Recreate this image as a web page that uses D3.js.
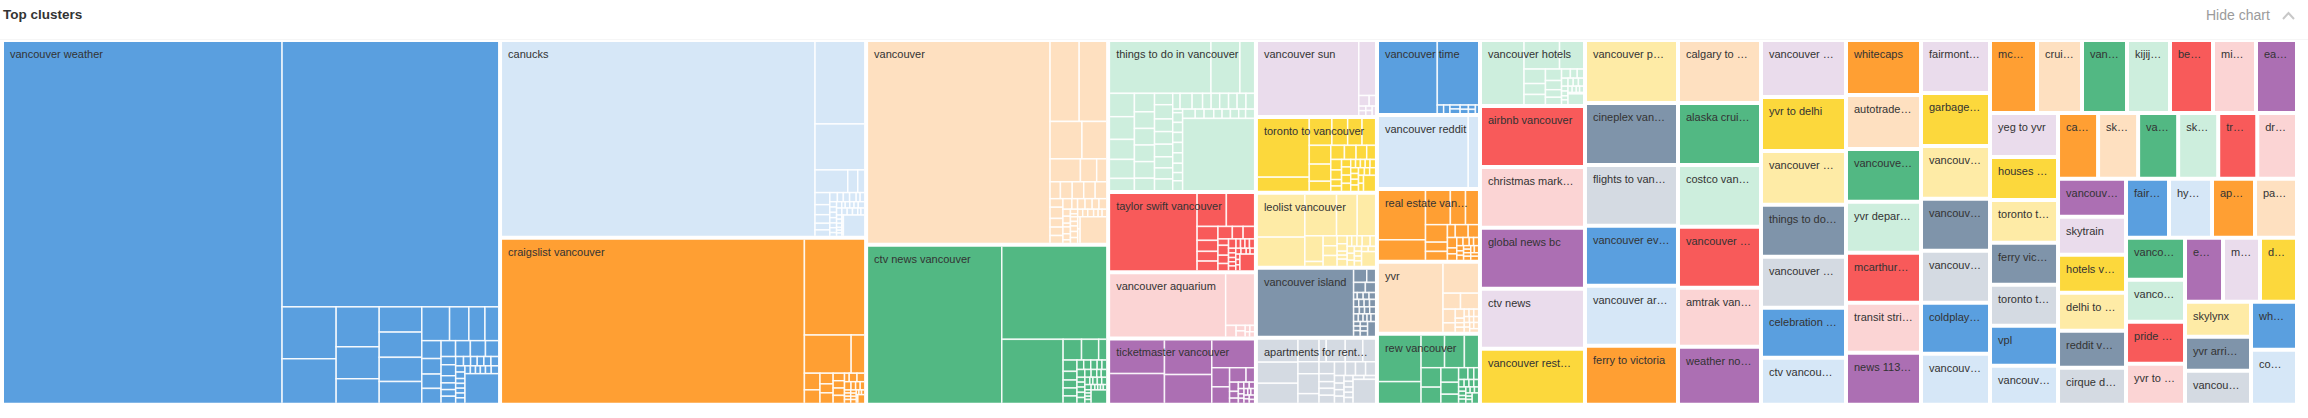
<!DOCTYPE html>
<html>
<head>
<meta charset="utf-8">
<script src="https://cdn.jsdelivr.net/npm/d3@7"></script>
<style>
  body { margin: 0; background: #fff; }
  text { font-family: "Liberation Sans", Arial, sans-serif; }
</style>
</head>
<body>
<script>
const clusterNames = [
  "vancouver weather", "canucks", "craigslist vancouver", "vancouver", "ctv news vancouver",
  "things to do in vancouver", "taylor swift vancouver", "vancouver aquarium", "ticketmaster vancouver",
  "vancouver sun", "toronto to vancouver", "leolist vancouver", "vancouver island", "apartments for rent…",
  "vancouver time", "vancouver reddit", "real estate van…", "yvr", "rew vancouver",
  "vancouver hotels", "airbnb vancouver", "christmas mark…", "global news bc", "ctv news", "vancouver rest…",
  "vancouver p…", "cineplex van…", "flights to van…", "vancouver ev…", "vancouver ar…", "ferry to victoria",
  "calgary to …", "alaska crui…", "costco van…", "vancouver …", "amtrak van…", "weather no…",
  "vancouver …", "yvr to delhi", "vancouver …", "things to do…", "vancouver …", "celebration …", "ctv vancou…",
  "whitecaps", "autotrade…", "vancouve…", "yvr depar…", "mcarthur…", "transit stri…", "news 113…",
  "fairmont…", "garbage…", "vancouv…", "vancouv…", "vancouv…", "coldplay…", "vancouv…",
  "mc…", "crui…", "van…", "kijij…", "be…", "mi…", "ea…",
  "yeg to yvr", "houses …", "toronto t…", "ferry vic…", "toronto t…", "vpl", "vancouv…",
  "ca…", "sk…", "va…", "sk…", "tr…", "dr…",
  "vancouv…", "skytrain", "hotels v…", "delhi to …", "reddit v…", "cirque d…",
  "fair…", "hy…", "ap…", "pa…",
  "vanco…", "vanco…", "pride …", "yvr to …",
  "e…", "m…", "d…",
  "skylynx", "yvr arri…", "vancou…",
  "wh…", "co…"
];

const clusterVolumes = [
  181770, 72468, 61122, 49610, 38720,
  22496, 11840, 9800, 9800,
  9317, 9196, 9075, 8470, 8107,
  7725, 7622, 7519, 7416, 7313,
  6930, 6405, 6405, 6405, 6300, 5880,
  5859, 5766, 5673, 5580, 5580, 5487,
  5229, 5146, 5146, 5063, 4897, 4814,
  4845, 4590, 4590, 4420, 4335, 4250, 3995,
  4125, 4050, 3975, 3825, 3750, 3750, 3900,
  3657, 3657, 3657, 3588, 3588, 3519, 3519,
  3431, 3285, 3285, 3139, 3139, 3139, 2993,
  2992, 2924, 2924, 2856, 2788, 2720, 2652,
  2640, 2640, 2640, 2640, 2574, 2620,
  2584, 2584, 2584, 2584, 2516, 2516,
  2537, 2537, 2537, 2478,
  2478, 2478, 2478, 2419,
  2432, 2368, 2368,
  2310, 2244, 2244,
  2208, 2530
];

// keyword volumes inside the clusters that show sub cells, same order as clusterNames
const keywordVolumes = [
  [100358,57240,2808,2376,1720,1376,1032,1075,1075,1032,903,938,653,544,442,345,299,276,276,230,235,240,200,120,160,105,97,97,94,73,66,62,62,66,66,58,60,45,45,45,45,45,42,40,38,40,45,53,960],
  [60664,4018,2254,742,227,143,178,148,127,98,87,69,54,57,60,36,36,36,36,36,36,32,33,22,33,22,29,27,27,37,37,37,37,37,22,22,22,22,22,15,15,15,15,15,430],
  [49226,5682,1786,494,260,200,140,118,129,85,83,83,83,40,66,60,54,38,38,32,19,20,20,20,18,18,18,18,12,12,12,12,50],
  [36461,2308,2135,1191,903,694,372,216,174,199,193,193,184,110,144,112,108,94,94,60,79,75,72,75,52,52,28,51,45,22,33,22,33,33,40,44,38,38,38,44,34,30,30,30,34,675],
  [20748,9608,3870,380,354,154,156,120,110,110,93,63,66,60,45,39,61,49,44,35,38,38,39,41,41,41,36,22,32,32,32,32,20,20,20,20,20,15,15,15,15,190],
  [5181,1488,718,567,552,486,462,284,372,334,334,334,334,239,207,260,230,230,230,202,202,202,116,190,165,135,135,140,135,140,125,35,96,99,99,103,103,92,81,92,117,82,90,77,77,77,64,77,5112],
  [6513,930,877,286,226,200,186,177,133,133,66,103,86,69,69,41,41,41,41,33,33,30,30,30,30,30,22,22,22,22,22,220],
  [7171,1443,115,50,50,30,25,20,20],
  [1808,1591,1622,1339,1155,342,283,239,114,81,60,40,35,35,30,30,25,25,25,20,20,20,20,20,15],
  [7373,864,110,61,32,30,28,28,24],
  [2991,703,598,416,380,340,405,369,207,192,164,150,116,113,103,69,52,69,75,75,69,40,40,40,40,40,45,45,45,45,45,40,40,40,38,177],
  [1988,1349,1300,849,726,470,79,140,136,144,80,75,40,40,67,48,55,55,84,50,50,50,40,35,35,35,35,35,35,190],
  [6250,164,102,118,96,25,40,40,40,38,40,40,40,40,36,36,36,36,36,30,30,30,30,30,34,34,34,34,103],
  [863,813,747,445,243,403,183,152,403,373,256,176,118,99,103,110,144,133,133,123,70,60,60,60,50,50,45,45,45,40,40,489],
  [4141,2564,50,50,40,40,35,30,30,25,20],
  [6251,679],
  [2254,920,830,506,415,379,200,182,100,164,124,97,55,55,50,50,35,35,35,30,30,25,25,25,25,25,25,25,25],
  [4304,1013,275,275,166,107,80,40,40,40,35,35,30,30,25,25,25,25,25,25,25],
  [1874,861,727,614,420,374,299,250,205,145,107,67,47,40,35,35,30,30,30,25,25,25,25,20,20,20,20,54],
  [2505,923,609,298,224,195,177,142,117,103,77,60,50,50,40,40,35,30,30,25,25,25,25,20,20,20,144]
];

const palette = [
  "#5a9fdf", "#d6e7f7", "#ff9f33", "#fee0c0", "#52b883", "#cdeedd", "#f85a5a",
  "#fbd4d4", "#ac6fb3", "#eadcec", "#fcd83c", "#feeba6", "#7f94aa", "#d4dae2"
];

let width = 2308;
let height = 418;

let svg = d3.select("body").append("svg")
            .attr("width", width)
            .attr("height", height)
            .style("display", "block");

// The header
svg.append("text").attr("x", 3)
                  .attr("y", 19)
                  .attr("font-size", 13.5)
                  .attr("font-weight", "bold")
                  .attr("fill", "#333")
                  .text("Top clusters");

svg.append("text").attr("x", 2206)
                  .attr("y", 20)
                  .attr("font-size", 14)
                  .attr("fill", "#9b9b9b")
                  .text("Hide chart");

svg.append("path").attr("d", d3.line()([[2283, 19], [2288.5, 13], [2294, 19]]))
                  .attr("fill", "none")
                  .attr("stroke", "#c8c8c8")
                  .attr("stroke-width", 2);

svg.append("line").attr("x1", 0)
                  .attr("x2", width)
                  .attr("y1", 39.5)
                  .attr("y2", 39.5)
                  .attr("stroke", "#f6f6f6");

// The treemap
let root = d3.hierarchy({
  children: clusterNames.map((name, i) => {
    let keywords = keywordVolumes[i] || [clusterVolumes[i]];
    let scale = clusterVolumes[i] / d3.sum(keywords);
    return { name: name, children: keywords.map(v => ({ value: v * scale })) };
  })
}).sum(d => d.value || 0);

d3.treemap()
  .tile(d3.treemapSquarify.ratio(1.52))
  .size([2291, 360.7])
  .paddingInner(d => d.depth === 0 ? 4 : 0)(root);

let chart = svg.append("g").attr("transform", "translate(4, 42)");

svg.append("defs").selectAll("clipPath")
   .data(root.children)
   .join("clipPath")
   .attr("id", (d, i) => "cluster-" + i)
   .append("rect")
   .attr("x", d => d.x0)
   .attr("y", d => d.y0)
   .attr("width", d => d.x1 - d.x0)
   .attr("height", d => d.y1 - d.y0);

let clusters = chart.selectAll("g.cluster")
                    .data(root.children)
                    .join("g")
                    .attr("class", "cluster");

// keep the white lines off the outer edge of a cluster
clusters.append("g")
        .attr("clip-path", (d, i) => "url(#cluster-" + i + ")")
        .each(function (cluster, i) {
          d3.select(this).selectAll("rect")
            .data(cluster.children)
            .join("rect")
            .attr("x", d => d.x0 - (d.x0 - cluster.x0 < 0.01 ? 2 : 0))
            .attr("y", d => d.y0 - (d.y0 - cluster.y0 < 0.01 ? 2 : 0))
            .attr("width", d => d.x1 - d.x0 + (d.x0 - cluster.x0 < 0.01 ? 2 : 0) + (cluster.x1 - d.x1 < 0.01 ? 2 : 0))
            .attr("height", d => d.y1 - d.y0 + (d.y0 - cluster.y0 < 0.01 ? 2 : 0) + (cluster.y1 - d.y1 < 0.01 ? 2 : 0))
            .attr("fill", palette[i % palette.length])
            .attr("stroke", "#fff")
            .attr("stroke-opacity", 0.85)
            .attr("stroke-width", 1.5);
        });

clusters.append("text")
        .attr("x", d => d.x0 + 6)
        .attr("y", d => d.y0 + 16)
        .attr("font-size", 11)
        .attr("fill", "#333")
        .text(d => d.data.name);
</script>
</body>
</html>
